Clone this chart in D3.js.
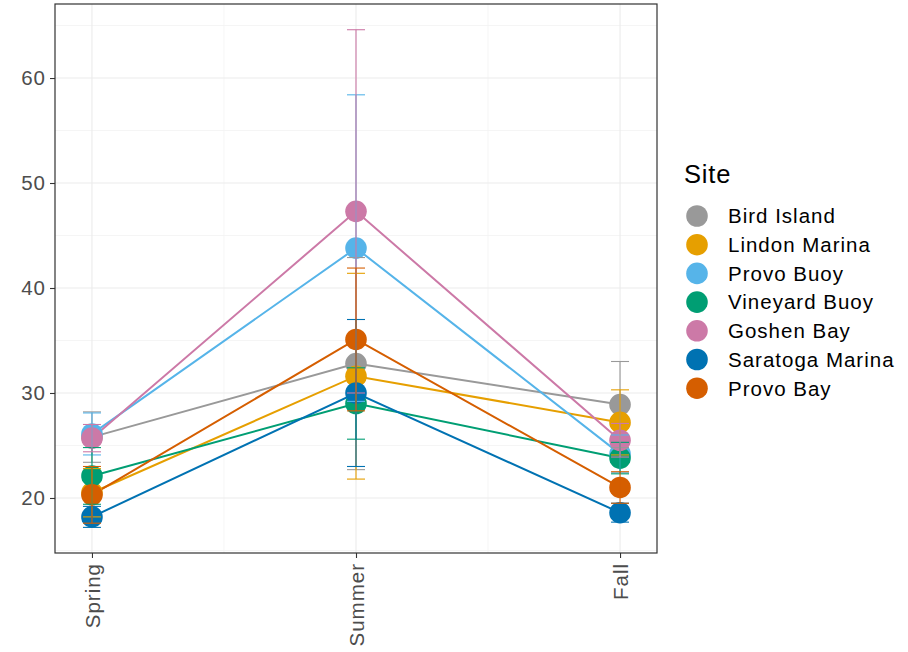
<!DOCTYPE html>
<html>
<head>
<meta charset="utf-8">
<script src="https://cdn.jsdelivr.net/npm/d3@7"></script>
<style>
body { margin: 0; background: #fff; }
svg { font-family: Arial, "Liberation Sans", sans-serif; }
</style>
</head>
<body>
<svg id="chart" width="908" height="652"></svg>
<script>
const seasons = ["Spring", "Summer", "Fall"];
const sites = ["Bird Island", "Lindon Marina", "Provo Buoy", "Vineyard Buoy", "Goshen Bay", "Saratoga Marina", "Provo Bay"];
const colors = ["#999999", "#E69F00", "#56B4E9", "#009E73", "#CC79A7", "#0072B2", "#D55E00"];
// mean values per site, in season order
const meanBirdIsland = [25.8, 32.8, 28.9];
const meanLindonMarina = [20.5, 31.6, 27.2];
const meanProvoBuoy = [26.1, 43.8, 24.2];
const meanVineyardBuoy = [22.1, 29.0, 23.8];
const meanGoshenBay = [25.7, 47.3, 25.5];
const meanSaratogaMarina = [18.2, 30.0, 18.6];
const meanProvoBay = [20.3, 35.1, 21.0];
// error half-widths per site
const errBirdIsland = [2.4, 10.1, 4.1];
const errLindonMarina = [2.3, 9.8, 3.1];
const errProvoBuoy = [2.0, 14.6, 1.8];
const errVineyardBuoy = [2.7, 3.4, 1.5];
const errGoshenBay = [1.3, 17.3, 1.6];
const errSaratogaMarina = [1.0, 7.0, 0.9];
const errProvoBay = [2.7, 6.8, 1.5];
const yTicks = [20, 30, 40, 50, 60];
const yMinor = [15, 25, 35, 45, 55, 65];

const means = [meanBirdIsland, meanLindonMarina, meanProvoBuoy, meanVineyardBuoy, meanGoshenBay, meanSaratogaMarina, meanProvoBay];
const errs = [errBirdIsland, errLindonMarina, errProvoBuoy, errVineyardBuoy, errGoshenBay, errSaratogaMarina, errProvoBay];
const series = sites.map((s, i) => ({
  site: s, color: colors[i],
  pts: seasons.map((se, j) => ({season: se, v: means[i][j], e: errs[i][j]}))
}));

const svg = d3.select("#chart");
const L = 55, R = 657, T = 4, B = 553;
const x = d3.scalePoint().domain(seasons).range([L, R]).padding(0.14);
const y = d3.scaleLinear().domain([14.76, 67.05]).range([B, T]);

// grid
const g = svg.append("g");
g.selectAll(".ymin").data(yMinor.filter(v => y(v) > T && y(v) < B)).join("line")
  .attr("x1", L).attr("x2", R).attr("y1", d => y(d)).attr("y2", d => y(d))
  .attr("stroke", "#F2F2F2").attr("stroke-width", 0.8);
const mids = [];
for (let i = 0; i < seasons.length - 1; i++) mids.push((x(seasons[i]) + x(seasons[i + 1])) / 2);
g.selectAll(".xmin").data(mids).join("line")
  .attr("x1", d => d).attr("x2", d => d).attr("y1", T).attr("y2", B)
  .attr("stroke", "#F2F2F2").attr("stroke-width", 0.8);
g.selectAll(".ymaj").data(yTicks).join("line")
  .attr("x1", L).attr("x2", R).attr("y1", d => y(d)).attr("y2", d => y(d))
  .attr("stroke", "#EBEBEB").attr("stroke-width", 1.1);
g.selectAll(".xmaj").data(seasons).join("line")
  .attr("x1", d => x(d)).attr("x2", d => x(d)).attr("y1", T).attr("y2", B)
  .attr("stroke", "#EBEBEB").attr("stroke-width", 1.1);

// lines
const line = d3.line().x(d => x(d.season)).y(d => y(d.v));
svg.append("g").selectAll("path").data(series).join("path")
  .attr("d", d => line(d.pts)).attr("fill", "none")
  .attr("stroke", d => d.color).attr("stroke-width", 2);

// points
series.forEach(s => {
  svg.append("g").selectAll("circle").data(s.pts).join("circle")
    .attr("cx", d => x(d.season)).attr("cy", d => y(d.v)).attr("r", 10.8)
    .attr("fill", s.color);
});

// error bars
const cap = 9;
series.forEach(s => {
  const eg = svg.append("g").attr("stroke", s.color).attr("stroke-width", 1.1);
  s.pts.forEach(d => {
    const cx = x(d.season), y1 = y(d.v + d.e), y2 = y(d.v - d.e);
    eg.append("line").attr("x1", cx).attr("x2", cx).attr("y1", y1).attr("y2", y2);
    eg.append("line").attr("x1", cx - cap).attr("x2", cx + cap).attr("y1", y1).attr("y2", y1);
    eg.append("line").attr("x1", cx - cap).attr("x2", cx + cap).attr("y1", y2).attr("y2", y2);
  });
});

// panel border
svg.append("rect").attr("x", L).attr("y", T).attr("width", R - L).attr("height", B - T)
  .attr("fill", "none").attr("stroke", "#333333").attr("stroke-width", 1.2);

// axes
const axFont = "20.5px";
const yAxis = d3.axisLeft(y).tickValues(yTicks).tickSize(5).tickPadding(4).tickFormat(d3.format("d"));
const ya = svg.append("g").attr("transform", `translate(${L},0)`).call(yAxis);
ya.select(".domain").remove();
ya.selectAll(".tick line").attr("stroke", "#333333").attr("stroke-width", 1.1);
ya.selectAll(".tick text").attr("fill", "#4D4D4D").style("font-size", axFont)
  .style("letter-spacing", "1px")
  .style("font-family", "Arial, 'Liberation Sans', sans-serif");

const xAxis = d3.axisBottom(x).tickSize(5).tickPadding(0);
const xa = svg.append("g").attr("transform", `translate(0,${B})`).call(xAxis);
xa.select(".domain").remove();
xa.selectAll(".tick line").attr("stroke", "#333333").attr("stroke-width", 1.1);
xa.selectAll(".tick text").attr("fill", "#4D4D4D").style("font-size", axFont)
  .style("letter-spacing", "1px")
  .style("font-family", "Arial, 'Liberation Sans', sans-serif")
  .attr("transform", "rotate(-90)").attr("text-anchor", "end")
  .attr("x", -10).attr("y", 0).attr("dy", "0.35em");

// legend
const lg = svg.append("g");
lg.append("text").attr("x", 684).attr("y", 183).text("Site")
  .style("font-size", "25.5px").style("letter-spacing", "0.8px").attr("fill", "#000");
const items = lg.selectAll("g.item").data(series).join("g")
  .attr("transform", (d, i) => `translate(697,${216 + i * 28.7})`);
items.append("circle").attr("r", 10.8).attr("fill", d => d.color);
items.append("text").attr("x", 31).attr("dy", "0.36em").text(d => d.site)
  .style("font-size", "20.5px").style("letter-spacing", "1px").attr("fill", "#000");
</script>
</body>
</html>
